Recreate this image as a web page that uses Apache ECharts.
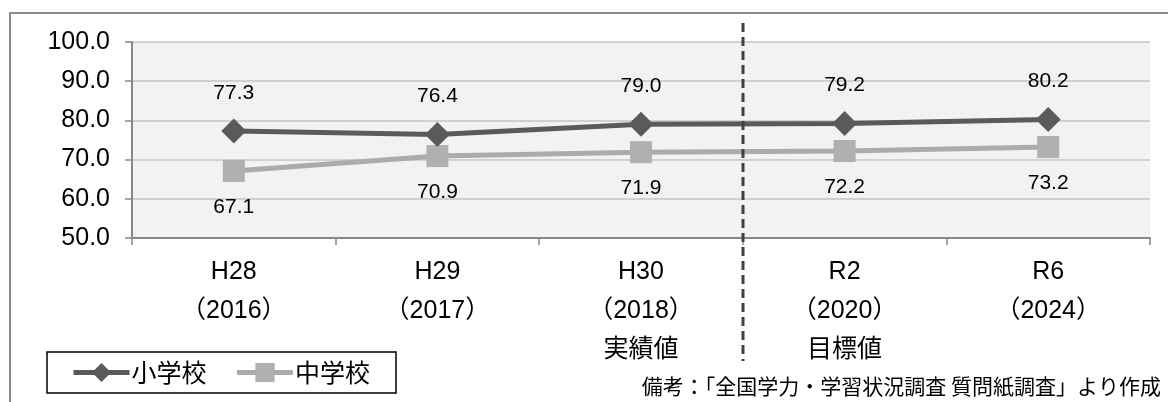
<!DOCTYPE html>
<html>
<head>
<meta charset="utf-8">
<script src="https://cdn.jsdelivr.net/npm/echarts@6/dist/echarts.min.js"></script>
<style>
  html, body { margin: 0; padding: 0; background: #fff; }
  #main { width: 1168px; height: 402px; }
</style>
</head>
<body>
<div id="main"></div>
<script>
var categories = ['H28\n（2016）', 'H29\n（2017）', 'H30\n（2018）\n実績値', 'R2\n（2020）\n目標値', 'R6\n（2024）'];
var elementary = [77.3, 76.4, 79.0, 79.2, 80.2];
var juniorHigh = [67.1, 70.9, 71.9, 72.2, 73.2];
var seriesNames = ['小学校', '中学校'];
var noteText = '備考：「全国学力・学習状況調査 質問紙調査」より作成';

var font = "'Liberation Sans', Arial, 'Noto Sans CJK JP', sans-serif";
var jpFont = "'Noto Sans CJK JP', sans-serif";

var chart = echarts.init(document.getElementById('main'));

var option = {
  animation: false,
  backgroundColor: '#fff',
  title: {
    text: noteText,
    right: 2,
    top: 371,
    textStyle: { fontFamily: jpFont, fontSize: 21, fontWeight: 'normal', color: '#000' }
  },
  legend: {
    left: 47,
    top: 352,
    padding: [8, 26, 8, 24],
    borderColor: '#000',
    borderWidth: 1.5,
    itemWidth: 56,
    itemHeight: 24,
    itemGap: 28,
    lineStyle: { width: 5 },
    textStyle: { fontFamily: jpFont, fontSize: 25, color: '#000', padding: [0, 0, 0, -3] },
    data: seriesNames
  },
  grid: {
    left: 132,
    right: 18,
    top: 42,
    bottom: 164,
    show: true,
    backgroundColor: '#f2f2f2',
    borderWidth: 0
  },
  xAxis: {
    type: 'category',
    data: categories,
    boundaryGap: true,
    axisLine: { lineStyle: { color: '#888', width: 2 } },
    axisTick: { show: true, length: 7, lineStyle: { color: '#888', width: 1.5 } },
    axisLabel: {
      margin: 15,
      fontFamily: font,
      fontSize: 25,
      lineHeight: 39,
      color: '#000'
    }
  },
  yAxis: {
    type: 'value',
    min: 50,
    max: 100,
    interval: 10,
    axisLine: { show: true, lineStyle: { color: '#888', width: 2 } },
    axisTick: { show: true, length: 7, lineStyle: { color: '#888', width: 1.5 } },
    splitLine: { lineStyle: { color: '#c4c4c4', width: 1.5 } },
    axisLabel: {
      margin: 22,
      fontFamily: font,
      fontSize: 25,
      color: '#000',
      formatter: function (v) { return v.toFixed(1); }
    }
  },
  series: [
    {
      name: seriesNames[0],
      type: 'line',
      data: elementary,
      symbol: 'diamond',
      symbolSize: 25,
      itemStyle: { color: '#5a5a5a' },
      lineStyle: { color: '#5a5a5a', width: 5 },
      label: {
        show: true,
        position: 'top',
        distance: 15,
        fontFamily: font,
        fontSize: 21,
        color: '#000',
        formatter: function (p) { return p.value.toFixed(1); }
      },
      z: 3
    },
    {
      name: seriesNames[1],
      type: 'line',
      data: juniorHigh,
      symbol: 'rect',
      symbolSize: 22,
      itemStyle: { color: '#b0b0b0' },
      lineStyle: { color: '#ababab', width: 5 },
      label: {
        show: true,
        position: 'bottom',
        distance: 15,
        fontFamily: font,
        fontSize: 21,
        color: '#000',
        formatter: function (p) { return p.value.toFixed(1); }
      },
      z: 2
    }
  ]
};

chart.setOption(option);

// outer frame and the dashed divider between actual and target values
var x2 = chart.convertToPixel({ xAxisIndex: 0 }, 2);
var x3 = chart.convertToPixel({ xAxisIndex: 0 }, 3);
var divX = Math.round((x2 + x3) / 2);
chart.setOption({
  graphic: [
    {
      type: 'rect',
      shape: { x: 10, y: 13, width: 1300, height: 500 },
      style: { fill: 'none', stroke: '#8c8c8c', lineWidth: 2 },
      silent: true
    },
    {
      type: 'line',
      shape: { x1: divX, y1: 23, x2: divX, y2: 361 },
      style: { stroke: '#404040', lineWidth: 3, lineDash: [9, 5] },
      z: 10,
      silent: true
    }
  ]
});
</script>
</body>
</html>
